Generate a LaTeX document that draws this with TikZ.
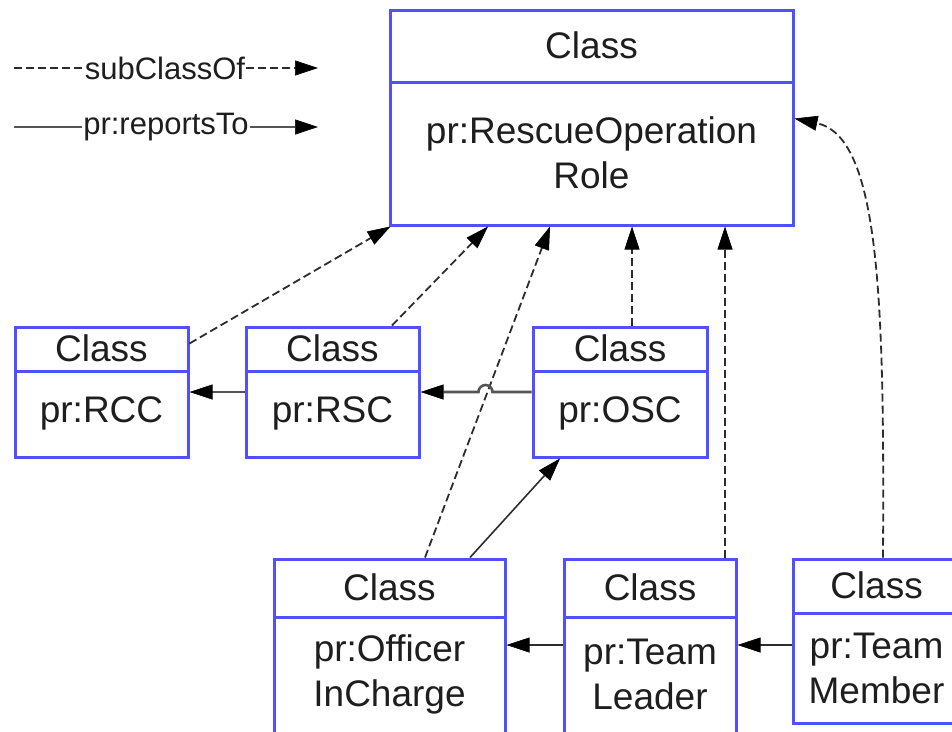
\documentclass[tikz,border=0pt]{standalone}
\usepackage{fontspec}
\setmainfont{Liberation Sans}
\usetikzlibrary{arrows.meta,fit}

\definecolor{umlblue}{RGB}{80,80,255}
\definecolor{inktext}{RGB}{30,30,30}
\definecolor{linkgray}{RGB}{45,45,45}
\definecolor{reportgray}{RGB}{85,85,85}

\tikzset{
  classframe/.style={draw=umlblue, line width=3pt, fill=white, inner sep=0pt},
  divider/.style={draw=umlblue, line width=3pt},
  hdrtext/.style={font=\fontsize{37}{45}\selectfont, text=inktext, inner sep=0pt},
  bodytext/.style={font=\fontsize{37}{45}\selectfont, text=inktext, align=center, inner sep=0pt},
  legendtext/.style={font=\fontsize{31}{36}\selectfont, text=inktext, inner sep=1pt},
  tip/.style={-{Triangle[length=23pt,width=15pt,line width=0.6pt,black]}},
  subclass/.style={draw=linkgray, line width=1.8pt, dash pattern=on 8pt off 4pt, tip},
  reports/.style={draw=reportgray, line width=2.6pt, tip},
}

% class box: name, x1, y1, x2, y2, divider y, body centre y, body text
\newcommand\umlclassbox[8]{%
  \coordinate (#1-nw) at (#2,#3);
  \coordinate (#1-se) at (#4,#5);
  \node[classframe, fit=(#1-nw)(#1-se)] (#1) {};
  \draw[divider] (#2,#6) -- (#4,#6);
  \node[hdrtext] (#1-head) at ({(#2+#4)/2},{(#3+#6)/2-1}) {Class};
  \node[bodytext] (#1-body) at ({(#2+#4)/2},#7) {#8};
}

\begin{document}
\begin{tikzpicture}[x=1pt,y=-1pt]
\useasboundingbox (0,0) rectangle (952,731);
\fill[white] (0,0) rectangle (952,731);
\clip (0,0) rectangle (952,731);

% legend
\coordinate (subL) at (14,68);
\coordinate (subR) at (318,68);
\node[legendtext] (subLbl) at (165,68) {subClassOf};
\draw[draw=linkgray, line width=1.8pt, dash pattern=on 8pt off 4pt] (subL) -- (subLbl.west);
\draw[subclass] (subLbl.east) -- (subR);

\coordinate (repL) at (14,127);
\coordinate (repR) at (318,127);
\node[legendtext] (repLbl) at (166,127) {pr:reportsTo};
\draw[draw=reportgray, line width=2.6pt] (repL) -- (repLbl.west);
\draw[reports] (repLbl.east) -- (repR);

% classes
\umlclassbox{top}{390}{10}{793}{225}{82}{153}{pr:RescueOperation\\Role}
\umlclassbox{rcc}{15}{327}{188}{457}{371}{413}{pr:RCC}
\umlclassbox{rsc}{246}{327}{419}{457}{371}{413}{pr:RSC}
\umlclassbox{osc}{533}{327}{707}{457}{371}{413}{pr:OSC}
\umlclassbox{oic}{274}{559}{505}{736}{617}{674}{pr:Officer\\InCharge}
\umlclassbox{tl}{564}{559}{736}{736}{617}{674}{pr:Team\\Leader}
\umlclassbox{tm}{793}{559}{960}{723}{613}{668}{pr:Team\\Member}

% subClassOf links
\draw[subclass] ([yshift=-18pt]rcc.north east) -- ([xshift=2pt]top.south west);
\draw[subclass] ([xshift=59.5pt]rsc.north) -- ([xshift=-103.5pt]top.south);
\draw[subclass] ([xshift=35.5pt]oic.north) -- ([xshift=-41.5pt]top.south);
\draw[subclass] ([xshift=12pt]osc.north) -- ([xshift=40.5pt]top.south);
\draw[subclass] ([xshift=75pt]tl.north) -- ([xshift=133.5pt]top.south);
\draw[subclass] ([xshift=6.5pt]tm.north) .. controls ([xshift=8pt,yshift=260pt]tm.north) and ([xshift=85pt,yshift=-128pt]top.north east) .. ([yshift=-110pt]top.north east);

% reportsTo links
\draw[reports] (osc.west) -- ++(-39,0) arc[start angle=0, end angle=-180, radius=7] -- (rsc.east);
\draw[reports] (rsc.west) -- (rcc.east);
\draw[reports, draw=linkgray, line width=1.6pt] ([xshift=80.5pt]oic.north) -- ([xshift=-60pt]osc.south);
\draw[reports, draw=linkgray, line width=2pt] (tl.west |- 0,645) -- (oic.east |- 0,645);
\draw[reports, draw=linkgray, line width=2pt] (tm.west |- 0,645) -- (tl.east |- 0,645);
\end{tikzpicture}
\end{document}
